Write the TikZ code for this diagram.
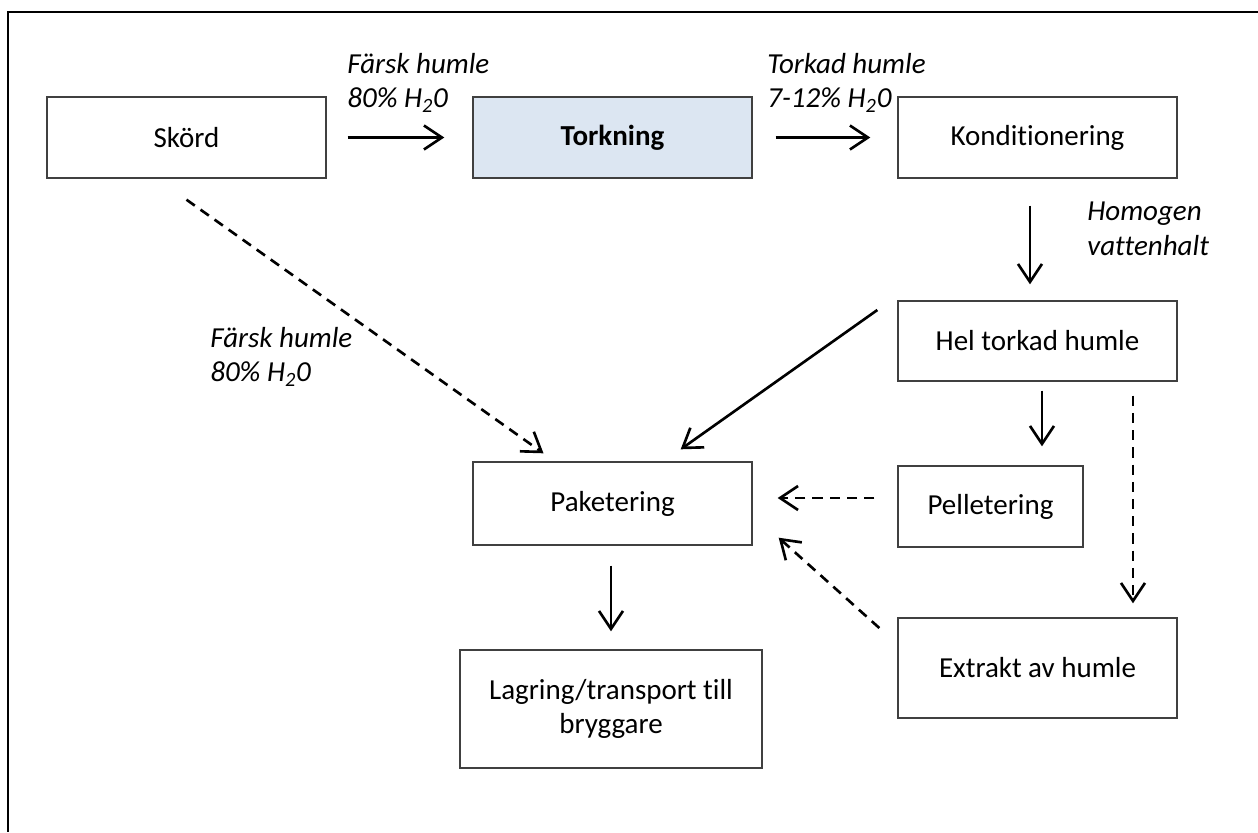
\documentclass[tikz,border=0pt]{standalone}
\usepackage{fontspec}
\setmainfont[Ligatures=NoCommon]{Carlito}
\usetikzlibrary{arrows.meta,calc}

\definecolor{torkfill}{RGB}{220,230,242}
\newcommand{\hto}{H\textsubscript{2}0}
\newcommand{\boxfont}{\fontsize{16.5}{19.5}\selectfont}

\tikzset{
  stepbox/.style={draw=black!75, line width=0.8pt, minimum width=5.58cm,
    minimum height=1.62cm, inner sep=0pt, font=\boxfont},
  lbl/.style={font=\boxfont\itshape, align=left, inner sep=0pt, anchor=north west},
  arr/.style={-{Straight Barb[length=3.6mm,width=4.8mm]}, line width=1.5pt},
  darr/.style={arr, dash pattern=on 5.8pt off 4pt},
}

\begin{document}
\begin{tikzpicture}[x=0.02cm, y=-0.02cm]
  \useasboundingbox (0,0) rectangle (1258,832);
  \draw [line width=0.9pt] (1258,12) -- (8,12) -- (8,832);

  % process steps
  \node [stepbox] (skord) at (186.5,137.5) {Skörd};
  \node [stepbox, fill=torkfill, font=\boxfont\bfseries] (tork) at (612.5,137.5) {Torkning};
  \node [stepbox] (kond) at (1037.5,137.5) {Konditionering};
  \node [stepbox, minimum height=1.6cm] (hel) at (1037.5,341) {Hel torkad humle};
  \node [stepbox, minimum width=3.7cm] (pell) at (990.5,506.5) {Pelletering};
  \node [stepbox, minimum height=1.66cm] (pak) at (612.5,503.5) {Paketering};
  \node [stepbox, minimum height=2cm] (extr) at (1037.5,668) {Extrakt av humle};
  \node [stepbox, minimum width=6.04cm, minimum height=2.36cm, align=center]
    (lag) at (611,709) {Lagring/transport till\\bryggare};

  % labels
  \node [lbl] (fresh) at (347,53) {Färsk humle\\80\% \hto};
  \node [lbl] (dried) at (767,53) {Torkad humle\\7-12\% \hto};
  \node [lbl] (homog) at (1087,202) {Homogen\\vattenhalt};
  \node [lbl] (freshb) at (210,327) {Färsk humle\\80\% \hto};

  % flows
  \draw [arr, shorten <=0.42cm, shorten >=0.56cm] (skord.east) -- (tork.west);
  \draw [arr, shorten <=0.46cm, shorten >=0.54cm] (tork.east) -- (kond.west);
  \draw [arr, shorten <=0.54cm, shorten >=0.32cm] ([xshift=-0.15cm]kond.south) -- ([xshift=-0.15cm]hel.north);
  \draw [arr, shorten <=0.18cm, shorten >=0.38cm] ([xshift=0.09cm]hel.south) -- ([xshift=0.09cm]hel.south |- pell.north);
  \draw [darr, shorten <=0.28cm, shorten >=0.28cm] ([xshift=1.91cm]hel.south) -- ([xshift=1.91cm]hel.south |- extr.north);
  \draw [darr, shorten <=0.46cm, shorten >=0.5cm] ([yshift=0.17cm]pell.west) -- ([yshift=0.17cm]pell.west -| pak.east);
  \draw [arr, shorten <=0.4cm, shorten >=0.36cm] (pak.south -| lag.north) -- (lag.north);
  \draw [darr] ($(skord.south)+(0,21)$) -- ($(pak.north)+(-69,-8)$);
  \draw [arr] ($(hel.west)+(-20,-31)$) -- ($(pak.north east)+(-72,-12)$);
  \draw [darr] ($(extr.west)+(-18,-40)$) -- ($(pak.south east)+(26,-8)$);
\end{tikzpicture}
\end{document}
